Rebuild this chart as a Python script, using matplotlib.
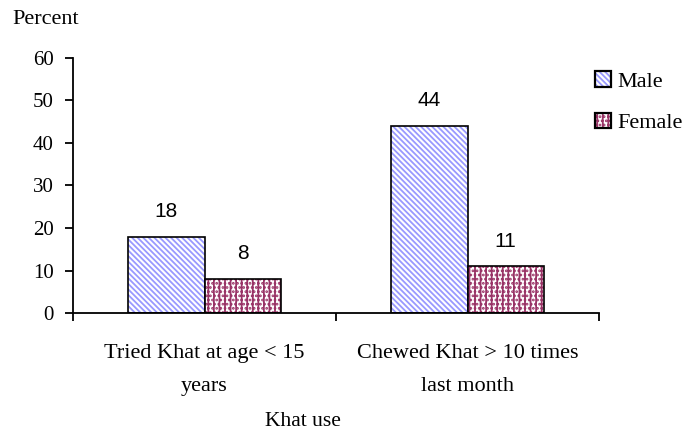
import numpy as np
import matplotlib.pyplot as plt
from matplotlib.patches import Patch
from matplotlib.legend_handler import HandlerTuple

categories = ["Tried Khat at age < 15\nyears", "Chewed Khat > 10 times\nlast month"]
male = [18, 44]
female = [8, 11]

SERIF = "Liberation Serif"
SANS = "Liberation Sans"
MALE_C = "#9999ff"
FEMALE_C = "#993366"
MALE_H = "\\\\\\\\\\\\"
FEMALE_H = "|||...."

plt.rcParams["hatch.linewidth"] = 1.3

fig = plt.figure(figsize=(6.9, 4.3), dpi=100)
ax = fig.add_axes([73 / 690, 1 - 313 / 430, 526 / 690, 255 / 430])

x = np.arange(len(categories)) + 0.5
w = 0.29

def draw(xpos, vals, color, hatch):
    ax.bar(xpos, vals, w, color="white", edgecolor=color, hatch=hatch, linewidth=0)
    ax.bar(xpos, vals, w, fill=False, edgecolor="black", linewidth=1.2)

draw(x - w / 2, male, MALE_C, MALE_H)
draw(x + w / 2, female, FEMALE_C, FEMALE_H)

for xi, v in list(zip(x - w / 2, male)) + list(zip(x + w / 2, female)):
    ax.text(xi, v + 5.9, str(v), ha="center", va="center", fontsize=15, family=SANS)

ax.set_xlim(0, 2)
ax.set_ylim(0, 60)
ax.set_yticks(range(0, 61, 10))
ax.set_xticks([0, 1, 2])
ax.set_xticklabels([])
ax.set_xticks(x, minor=True)
ax.set_xticklabels(categories, minor=True, family=SERIF, fontsize=16, linespacing=2.0)
ax.tick_params(axis="x", which="minor", length=0, pad=22)
ax.tick_params(axis="x", which="major", direction="out", length=6, width=1.3)
ax.tick_params(axis="y", direction="out", length=5.8, width=1.3, labelsize=15, pad=8)
for lab in ax.get_yticklabels():
    lab.set_family(SERIF)

for s in ["top", "right"]:
    ax.spines[s].set_visible(False)
ax.spines["left"].set_linewidth(1.3)
ax.spines["bottom"].set_linewidth(1.3)

fig.text(12 / 690, 1 - 19 / 430, "Percent", family=SERIF, fontsize=16, va="center")
fig.text(303 / 690, 1 - 421 / 430, "Khat use", family=SERIF, fontsize=15.5, ha="center", va="center")

handles = []
for c, h in [(MALE_C, MALE_H), (FEMALE_C, FEMALE_H)]:
    handles.append((Patch(facecolor="white", edgecolor=c, hatch=h, linewidth=0),
                    Patch(fill=False, edgecolor="black", linewidth=1.6)))
leg = fig.legend(handles, ["Male", "Female"], loc="upper left", bbox_to_anchor=(595 / 690, 1 - 71 / 430),
                 frameon=False, prop={"family": SERIF, "size": 16}, borderpad=0, borderaxespad=0,
                 handlelength=0.7, handleheight=0.7, handletextpad=0.3, labelspacing=0.95,
                 handler_map={tuple: HandlerTuple(ndivide=1, pad=0)})

fig.savefig("out.png", dpi=100)
